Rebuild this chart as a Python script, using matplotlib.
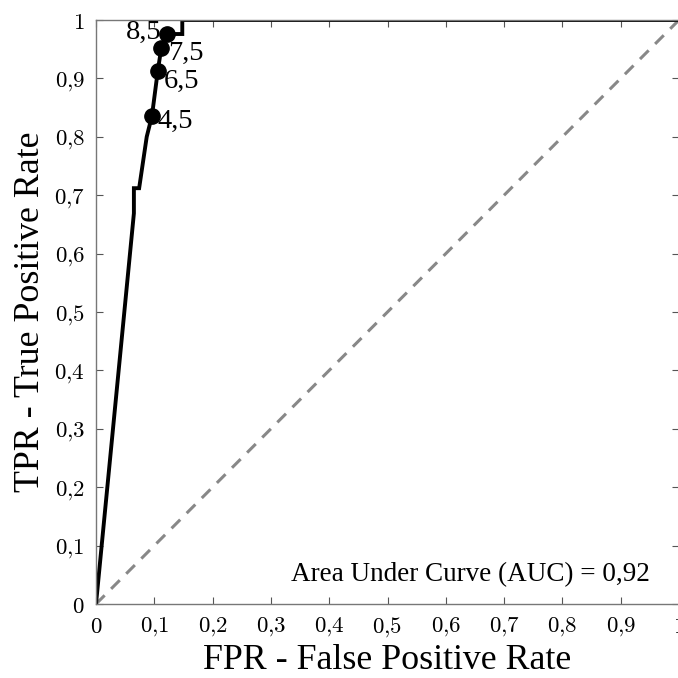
import matplotlib
matplotlib.use("Agg")
import matplotlib.pyplot as plt

# ROC curve data
fpr = [0.0, 0.065, 0.065, 0.074, 0.087, 0.096, 0.106, 0.112, 0.122, 0.148, 0.148, 1.0]
tpr = [0.0, 0.669, 0.712, 0.712, 0.80, 0.836, 0.913, 0.952, 0.976, 0.976, 1.0, 1.0]

# threshold markers
thr_fpr = [0.096, 0.106, 0.112, 0.122]
thr_tpr = [0.836, 0.913, 0.952, 0.976]
thr_labels = ["4,5", "6,5", "7,5", "8,5"]

ticks = [0.0, 0.1, 0.2, 0.3, 0.4, 0.5, 0.6, 0.7, 0.8, 0.9, 1.0]
tick_labels = ["0", "0,1", "0,2", "0,3", "0,4", "0,5", "0,6", "0,7", "0,8", "0,9", "1"]
auc_text = "Area Under Curve (AUC) = 0,92"

plt.rcParams['mathtext.fontset'] = 'cm'
serif = ['Liberation Serif', 'DejaVu Serif']

fig = plt.figure(figsize=(6.78, 6.78), dpi=100)
ax = fig.add_axes([96/678, 1-604/678, 583/678, 584/678])

ax.plot([0, 1], [0, 1], linestyle=(0, (4, 3)), color='#888888', lw=2.2)
ax.plot(fpr, tpr, color='black', lw=2.8, solid_joinstyle='miter')
ax.plot(thr_fpr, thr_tpr, 'o', color='black', ms=11)

offsets = {"4,5": (0.010, -0.010), "6,5": (0.010, -0.018), "7,5": (0.012, -0.010), "8,5": (-0.010, 0.003)}
for x, y, lab in zip(thr_fpr, thr_tpr, thr_labels):
    dx, dy = offsets[lab]
    ha = 'right' if dx < 0 else 'left'
    ax.text(x + dx, y + dy, lab, ha=ha, va='center', fontsize=20.5, family=serif)

ax.text(0.95, 0.05, auc_text, ha='right', va='center', fontsize=19.5, family=serif, transform=ax.transAxes)

ax.set_xlim(0, 1)
ax.set_ylim(0, 1)
ax.set_xticks(ticks)
ax.set_yticks(ticks)
ax.set_xticklabels(["$" + t.replace(",", "{,}") + "$" for t in tick_labels], fontsize=16.5)
ax.set_yticklabels(["$" + t.replace(",", "{,}") + "$" for t in tick_labels], fontsize=16.5)
ax.tick_params(direction='in', top=True, right=True, length=5, width=0.8, color='#555555', pad=8)
for s in ax.spines.values():
    s.set_color('#777777')
    s.set_linewidth(1.0)

ax.set_xlabel("FPR - False Positive Rate", fontsize=25.8, family=serif, labelpad=4)
ax.set_ylabel("TPR - True Positive Rate", fontsize=25.8, family=serif, labelpad=5)

fig.savefig("out.png", dpi=100)
